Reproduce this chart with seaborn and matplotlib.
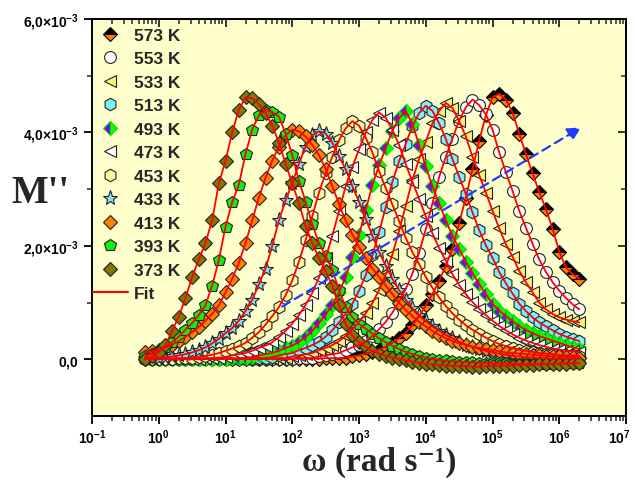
import numpy as np
import matplotlib
matplotlib.use("Agg")
import matplotlib.pyplot as plt
import matplotlib.transforms as mtransforms
import seaborn as sns
from matplotlib.lines import Line2D
from matplotlib.ticker import FixedLocator, FixedFormatter, NullFormatter, LogLocator

sns.set_style("ticks")
plt.rcParams['font.family'] = ['Liberation Sans', 'DejaVu Sans']
plt.rcParams['mathtext.fontset'] = 'custom'
plt.rcParams['mathtext.sf'] = 'Liberation Sans:bold'
plt.rcParams['mathtext.bf'] = 'Liberation Serif:bold'
plt.rcParams['mathtext.rm'] = 'Liberation Sans:bold'
plt.rcParams['mathtext.it'] = 'Liberation Sans:bold:italic'

# ---------------- data (M'' in units of 1e-3) ----------------
log_omega = [-0.2, -0.1, 0.0, 0.1, 0.2, 0.3, 0.4, 0.5, 0.6, 0.7,
             0.8, 0.9, 1.0, 1.1, 1.2, 1.3, 1.4, 1.5, 1.6, 1.7,
             1.8, 1.9, 2.0, 2.1, 2.2, 2.3, 2.4, 2.5, 2.6, 2.7,
             2.8, 2.9, 3.0, 3.1, 3.2, 3.3, 3.4, 3.5, 3.6, 3.7,
             3.8, 3.9, 4.0, 4.1, 4.2, 4.3, 4.4, 4.5, 4.6, 4.7,
             4.8, 4.9, 5.0, 5.1, 5.2, 5.3, 5.4, 5.5, 5.6, 5.7,
             5.8, 5.9, 6.0, 6.1, 6.2, 6.3]

m573 = [0.01, 0.01, 0.00, 0.01, 0.01, 0.00, 0.01, 0.01, 0.00, 0.01,
        0.01, 0.00, 0.01, 0.01, 0.00, 0.01, 0.01, 0.00, 0.01, 0.01,
        0.00, 0.01, 0.01, 0.01, 0.01, 0.01, 0.01, 0.02, 0.02, 0.02,
        0.03, 0.05, 0.07, 0.10, 0.13, 0.17, 0.22, 0.29, 0.37, 0.47,
        0.60, 0.75, 0.95, 1.15, 1.38, 1.65, 1.95, 2.40, 2.85, 3.35,
        3.85, 4.30, 4.62, 4.68, 4.58, 4.35, 3.98, 3.62, 3.28, 2.95,
        2.65, 2.30, 1.90, 1.62, 1.50, 1.42]
m553 = [0.01, 0.00, 0.01, 0.01, 0.00, 0.01, 0.01, 0.00, 0.01, 0.01,
        0.00, 0.01, 0.01, 0.00, 0.01, 0.01, 0.00, 0.01, 0.01, 0.01,
        0.01, 0.01, 0.01, 0.02, 0.02, 0.02, 0.05, 0.07, 0.09, 0.11,
        0.16, 0.21, 0.25, 0.32, 0.41, 0.53, 0.66, 0.82, 1.01, 1.24,
        1.51, 1.88, 2.29, 2.75, 3.21, 3.57, 3.89, 4.21, 4.44, 4.58,
        4.48, 4.32, 4.05, 3.65, 3.30, 2.97, 2.62, 2.32, 2.04, 1.76,
        1.54, 1.36, 1.21, 1.08, 0.97, 0.88]
m533 = [0.01, 0.01, 0.00, 0.01, 0.01, 0.00, 0.01, 0.01, 0.00, 0.01,
        0.01, 0.00, 0.01, 0.01, 0.00, 0.01, 0.01, 0.01, 0.01, 0.02,
        0.02, 0.02, 0.05, 0.07, 0.09, 0.11, 0.16, 0.20, 0.25, 0.32,
        0.41, 0.52, 0.66, 0.81, 0.99, 1.22, 1.49, 1.85, 2.26, 2.71,
        3.16, 3.53, 3.84, 4.16, 4.38, 4.52, 4.43, 4.20, 3.93, 3.57,
        3.25, 2.94, 2.62, 2.31, 2.03, 1.81, 1.56, 1.36, 1.18, 1.00,
        0.88, 0.80, 0.74, 0.70, 0.67, 0.65]
m513 = [0.00, 0.01, 0.01, 0.00, 0.01, 0.01, 0.00, 0.01, 0.01, 0.00,
        0.01, 0.01, 0.01, 0.01, 0.01, 0.01, 0.02, 0.02, 0.02, 0.04,
        0.07, 0.09, 0.11, 0.16, 0.20, 0.25, 0.31, 0.40, 0.51, 0.65,
        0.80, 0.98, 1.21, 1.48, 1.83, 2.24, 2.68, 3.13, 3.49, 3.80,
        4.11, 4.34, 4.47, 4.38, 4.16, 3.89, 3.53, 3.22, 2.91, 2.59,
        2.28, 2.01, 1.79, 1.54, 1.34, 1.16, 0.98, 0.85, 0.74, 0.65,
        0.58, 0.51, 0.45, 0.40, 0.36, 0.32]
m493 = [0.01, 0.00, 0.01, 0.01, 0.00, 0.01, 0.01, 0.00, 0.01, 0.01,
        0.01, 0.01, 0.01, 0.02, 0.02, 0.03, 0.04, 0.07, 0.09, 0.11,
        0.15, 0.20, 0.24, 0.31, 0.39, 0.50, 0.64, 0.79, 0.96, 1.18,
        1.45, 1.80, 2.19, 2.63, 3.07, 3.42, 3.72, 4.03, 4.25, 4.38,
        4.15, 3.78, 3.40, 3.05, 2.75, 2.45, 2.18, 1.95, 1.72, 1.52,
        1.33, 1.15, 0.98, 0.86, 0.76, 0.67, 0.59, 0.52, 0.46, 0.41,
        0.37, 0.33, 0.29, 0.25, 0.21, 0.18]
m473 = [0.01, 0.01, 0.00, 0.01, 0.01, 0.01, 0.01, 0.01, 0.01, 0.02,
        0.02, 0.03, 0.04, 0.07, 0.09, 0.11, 0.15, 0.20, 0.24, 0.30,
        0.39, 0.50, 0.63, 0.78, 0.96, 1.17, 1.44, 1.78, 2.18, 2.61,
        3.05, 3.39, 3.70, 4.00, 4.22, 4.35, 4.26, 4.05, 3.78, 3.44,
        3.13, 2.83, 2.52, 2.22, 1.96, 1.74, 1.50, 1.31, 1.15, 1.01,
        0.89, 0.78, 0.68, 0.59, 0.51, 0.44, 0.38, 0.33, 0.29, 0.25,
        0.22, 0.19, 0.17, 0.15, 0.14, 0.13]
m453 = [0.01, 0.01, 0.01, 0.01, 0.01, 0.02, 0.02, 0.03, 0.04, 0.06,
        0.08, 0.11, 0.15, 0.19, 0.23, 0.29, 0.38, 0.48, 0.61, 0.76,
        0.92, 1.13, 1.39, 1.72, 2.10, 2.52, 2.94, 3.28, 3.57, 3.86,
        4.07, 4.20, 4.12, 3.91, 3.65, 3.32, 3.02, 2.73, 2.44, 2.14,
        1.89, 1.68, 1.45, 1.26, 1.09, 0.94, 0.81, 0.70, 0.60, 0.52,
        0.45, 0.38, 0.32, 0.27, 0.23, 0.20, 0.17, 0.15, 0.13, 0.11,
        0.10, 0.09, 0.08, 0.07, 0.07, 0.06]
m433 = [0.02, 0.02, 0.03, 0.04, 0.05, 0.07, 0.09, 0.12, 0.16, 0.21,
        0.28, 0.36, 0.46, 0.55, 0.68, 0.85, 1.05, 1.32, 1.60, 2.00,
        2.45, 2.80, 3.10, 3.45, 3.75, 3.95, 4.02, 3.98, 3.82, 3.58,
        3.35, 3.05, 2.78, 2.48, 2.18, 1.90, 1.65, 1.42, 1.22, 1.05,
        0.90, 0.78, 0.67, 0.58, 0.50, 0.43, 0.37, 0.31, 0.26, 0.22,
        0.18, 0.15, 0.12, 0.10, 0.08, 0.06, 0.05, 0.04, 0.03, 0.02,
        0.02, 0.01, 0.01, 0.01, 0.01, 0.01]
m413 = [0.12, 0.14, 0.17, 0.21, 0.26, 0.32, 0.40, 0.48, 0.57, 0.68,
        0.80, 0.95, 1.18, 1.42, 1.70, 2.05, 2.45, 2.85, 3.20, 3.50,
        3.75, 3.95, 4.05, 4.02, 3.93, 3.78, 3.60, 3.36, 3.05, 2.74,
        2.45, 2.20, 1.98, 1.78, 1.60, 1.45, 1.30, 1.15, 1.00, 0.87,
        0.76, 0.66, 0.58, 0.50, 0.43, 0.37, 0.32, 0.28, 0.25, 0.22,
        0.20, 0.18, 0.16, 0.14, 0.12, 0.11, 0.10, 0.09, 0.08, 0.07,
        0.06, 0.05, 0.05, 0.04, 0.04, 0.03]
m393 = [0.06, 0.10, 0.15, 0.22, 0.30, 0.40, 0.52, 0.64, 0.78, 0.95,
        1.30, 1.75, 2.34, 2.77, 3.08, 3.62, 4.05, 4.30, 4.40, 4.36,
        4.28, 3.98, 3.60, 3.15, 2.78, 2.38, 2.05, 1.82, 1.58, 1.22,
        0.92, 0.74, 0.62, 0.54, 0.45, 0.37, 0.30, 0.24, 0.18, 0.13,
        0.09, 0.06, 0.03, 0.01, -0.01, -0.02, -0.03, -0.04, -0.05, -0.05,
        -0.06, -0.06, -0.07, -0.07, -0.07, -0.08, -0.08, -0.08, -0.08, -0.08,
        -0.08, -0.08, -0.07, -0.07, -0.07, -0.07]
m373 = [0.00, 0.05, 0.12, 0.25, 0.50, 0.75, 1.08, 1.45, 1.76, 2.05,
        2.45, 3.10, 3.50, 4.00, 4.40, 4.62, 4.60, 4.50, 4.35, 4.12,
        3.82, 3.45, 3.10, 2.75, 2.35, 2.05, 1.78, 1.55, 1.30, 0.95,
        0.62, 0.42, 0.30, 0.22, 0.15, 0.10, 0.06, 0.03, 0.01, -0.02,
        -0.04, -0.06, -0.08, -0.09, -0.10, -0.11, -0.12, -0.12, -0.12, -0.13,
        -0.13, -0.12, -0.12, -0.12, -0.11, -0.11, -0.10, -0.10, -0.10, -0.09,
        -0.09, -0.08, -0.08, -0.08, -0.07, -0.07]

temperatures = ["573 K", "553 K", "533 K", "513 K", "493 K", "473 K",
                "453 K", "433 K", "413 K", "393 K", "373 K"]
values = [m573, m553, m533, m513, m493, m473, m453, m433, m413, m393, m373]

x_tick_exps = [-1, 0, 1, 2, 3, 4, 5, 6, 7]
y_major = [0.0, 2e-3, 4e-3, 6e-3]
y_major_labels = [r"$\mathsf{0{,}0}$", r"$\mathsf{2{,}0{\times}10^{-3}}$",
                  r"$\mathsf{4{,}0{\times}10^{-3}}$", r"$\mathsf{6{,}0{\times}10^{-3}}$"]
y_minor = [1e-3, 3e-3, 5e-3]

# arrow annotation (data coordinates)
arrow_start = (10 ** 1.85, 0.93e-3)
arrow_end = (10 ** 6.33, 4.09e-3)

# ---------------- styles ----------------
EDGE = "#222222"
styles = {
    "573 K": dict(marker="D", markersize=7, markerfacecolor="#000000",
                  markerfacecoloralt="#FF8000", fillstyle="top", markeredgecolor="#000000"),
    "553 K": dict(marker="o", markersize=8.5, markerfacecolor="#FFFFFF", markeredgecolor=EDGE),
    "533 K": dict(marker="<", markersize=9, markerfacecolor="#FFF27A", markeredgecolor=EDGE),
    "513 K": dict(marker="h", markersize=9, markerfacecolor="#7FF0FF", markeredgecolor=EDGE),
    "493 K": dict(marker="D", markersize=7, markerfacecolor="#8000FF",
                  markerfacecoloralt="#00FF00", fillstyle="left", markeredgecolor="#00E000"),
    "473 K": dict(marker="<", markersize=9, markerfacecolor="#FFFFFF", markeredgecolor=EDGE),
    "453 K": dict(marker="h", markersize=9, markerfacecolor="#FFF9A0", markeredgecolor=EDGE),
    "433 K": dict(marker="*", markersize=11, markerfacecolor="#7FE3F5", markeredgecolor=EDGE),
    "413 K": dict(marker="D", markersize=7, markerfacecolor="#FF8000", markeredgecolor=EDGE),
    "393 K": dict(marker="p", markersize=9, markerfacecolor="#11EE11", markeredgecolor=EDGE),
    "373 K": dict(marker="D", markersize=7, markerfacecolor="#807800", markeredgecolor=EDGE),
}

# ---------------- figure ----------------
fig = plt.figure(figsize=(6.35, 4.81), dpi=100)
ax = fig.add_axes([92 / 635, 64 / 481, 534 / 635, 397 / 481])
ax.set_facecolor("#FFFFCC")
ax.set_xscale("log")

omega = 10.0 ** np.array(log_omega)

for name, vals in zip(temperatures, values):
    st = styles[name]
    sns.lineplot(x=omega, y=np.array(vals) * 1e-3, ax=ax, estimator=None, sort=False,
                 linestyle="", markeredgewidth=0.8, zorder=2, **st)

for name, vals in zip(temperatures, values):
    sns.lineplot(x=omega, y=np.array(vals) * 1e-3, ax=ax, estimator=None, sort=False,
                 color="#FF0000", linewidth=1.3, zorder=3)

ax.annotate("", xy=arrow_end, xytext=arrow_start,
            arrowprops=dict(arrowstyle="-|>", color="#1E3CFF", lw=1.6,
                            linestyle=(0, (4, 2.5)), mutation_scale=20,
                            shrinkA=0, shrinkB=0), zorder=4)

ax.set_xlim(0.1, 1e7)
ax.set_ylim(-1e-3, 6e-3)

# x ticks
ax.xaxis.set_major_locator(FixedLocator([10.0 ** k for k in x_tick_exps]))
ax.xaxis.set_major_formatter(FixedFormatter([r"$\mathsf{10^{%d}}$" % k for k in x_tick_exps]))
ax.xaxis.set_minor_locator(LogLocator(base=10, subs=np.arange(2, 10), numticks=100))
ax.xaxis.set_minor_formatter(NullFormatter())
# y ticks
ax.yaxis.set_major_locator(FixedLocator(y_major))
ax.yaxis.set_major_formatter(FixedFormatter(y_major_labels))
ax.yaxis.set_minor_locator(FixedLocator(y_minor))

ax.tick_params(which="major", direction="out", length=6, width=1.3, labelsize=10,
               top=False, right=False, colors="black")
ax.tick_params(axis="x", which="major", pad=2.5)
ax.tick_params(which="minor", direction="out", length=3.5, width=1.1, top=False, right=False)
for sp in ax.spines.values():
    sp.set_linewidth(1.4)
    sp.set_color("black")

# inward ticks on top and right
secx = ax.secondary_xaxis("top")
secx.xaxis.set_major_locator(FixedLocator([10.0 ** k for k in x_tick_exps]))
secx.xaxis.set_minor_locator(LogLocator(base=10, subs=np.arange(2, 10), numticks=100))
secx.tick_params(which="major", direction="in", length=6, width=1.3, labeltop=False)
secx.tick_params(which="minor", direction="in", length=3.5, width=1.1)
secx.spines["top"].set_linewidth(1.4)

secy = ax.secondary_yaxis("right")
secy.yaxis.set_major_locator(FixedLocator(y_major))
secy.yaxis.set_minor_locator(FixedLocator(y_minor))
secy.tick_params(which="major", direction="in", length=6, width=1.3, labelright=False)
secy.tick_params(which="minor", direction="in", length=3.5, width=1.1)
secy.spines["right"].set_linewidth(1.4)

# nudge the last x tick label so it stays inside the figure
fig.canvas.draw()
last_lab = ax.get_xticklabels()[-1]
last_lab.set_transform(last_lab.get_transform() +
                       mtransforms.ScaledTranslation(-5 / 72, 0, fig.dpi_scale_trans))

# axis labels
ax.set_xlabel("ω (rad s\u207b\u00b9)", fontsize=24,
              fontfamily=["Liberation Serif", "DejaVu Serif"], fontweight="bold")
ax.xaxis.label.set_va("baseline")
ax.xaxis.set_label_coords(0.537, -0.136)
ax.set_ylabel("M''", fontsize=28, fontfamily="Liberation Serif", fontweight="bold",
              rotation=0)
ax.yaxis.label.set_va("baseline")
ax.yaxis.label.set_ha("center")
ax.yaxis.set_label_coords(-0.097, 0.539)

# legend
handles = []
for name in temperatures:
    handles.append(Line2D([], [], linestyle="", markeredgewidth=0.8, **styles[name]))
handles.append(Line2D([], [], color="#FF0000", linewidth=1.5))
labels = temperatures + ["Fit"]
ax.legend(handles, labels, loc="upper left", bbox_to_anchor=(0.002, 0.978),
          frameon=False, prop={"family": "Liberation Sans", "weight": "bold", "size": 12.5},
          handlelength=2.0, handletextpad=0.35, labelspacing=0.48, borderpad=0,
          borderaxespad=0, numpoints=1)

fig.savefig("out.png", dpi=100, facecolor="white")
